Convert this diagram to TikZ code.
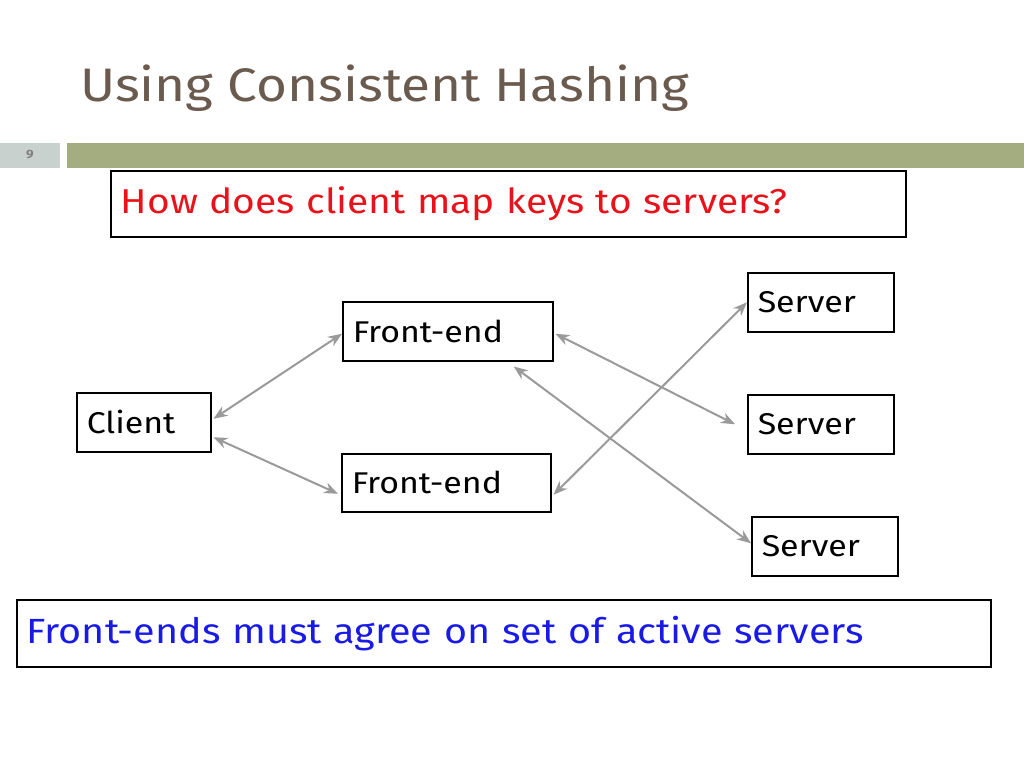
\documentclass[tikz,border=0pt]{standalone}
\usepackage{fontspec}
\setmainfont[FakeStretch=1.13]{Fira Sans}
\usetikzlibrary{arrows.meta}
\definecolor{titlec}{HTML}{6B5A4E}
\definecolor{barc}{HTML}{A3AD7F}
\definecolor{numc}{HTML}{C9D1CF}
\definecolor{arrc}{HTML}{9A9A9A}
\definecolor{qred}{HTML}{E8121B}
\definecolor{ablue}{HTML}{1A1AE6}
\begin{document}
\begin{tikzpicture}[x=1pt,y=-1pt,
  box/.style={draw=black,line width=1.5pt,anchor=north west,inner xsep=10pt,inner ysep=0pt,align=left,font=\fontsize{30}{34}\selectfont},
  link/.style={draw=arrc,line width=2pt,{Stealth[length=14pt,width=11pt]}-{Stealth[length=14pt,width=11pt]}}]
\useasboundingbox (0,0) rectangle (1024,768);
\node[anchor=base west,text=titlec,font=\fontsize{47}{50}\selectfont,inner sep=0] (title) at (80,101) {Using Consistent Hashing};
\fill[numc] (0,143) rectangle (60,168);
\node[font=\fontsize{12}{14}\selectfont\bfseries,text=gray] (num) at (30,155) {9};
\fill[barc] (67,143) rectangle (1024,168);
\node[box,text width=775pt,minimum height=66pt,inner xsep=10pt,text=qred,font=\fontsize{34.5}{38}\selectfont] (q) at (110,170) {How does client map keys to servers?};
\node[box,text width=114pt,minimum height=59pt] (client) at (76,392) {Client};
\node[box,text width=190pt,minimum height=59pt] (fe1) at (342,301) {Front-end};
\node[box,text width=189pt,minimum height=58pt] (fe2) at (341,453) {Front-end};
\node[box,text width=126pt,minimum height=59pt] (s1) at (747,272) {Server};
\node[box,text width=126pt,minimum height=59pt] (s2) at (747,394) {Server};
\node[box,text width=126pt,minimum height=59pt] (s3) at (751,516) {Server};
\node[box,text width=954pt,minimum height=67pt,text=ablue,font=\fontsize{35}{40}\selectfont] (a) at (16,599) {Front-ends must agree on set of active servers};
\draw[link] ([xshift=2pt,yshift=3.5pt]client.east) -- ([yshift=-2.5pt]fe1.west);
\draw[link] ([xshift=2pt,yshift=-15pt]client.east) -- ([xshift=-3pt,yshift=-11pt]fe2.west);
\draw[link] ([xshift=2pt,yshift=-2.5pt]fe1.east) -- ([xshift=-12pt]s2.west);
\draw[link] ([xshift=66pt,yshift=-5pt]fe1.south) -- ([yshift=3pt]s3.west);
\draw[link] ([xshift=2pt,yshift=-12pt]fe2.east) -- (s1.west);
\end{tikzpicture}
\end{document}
